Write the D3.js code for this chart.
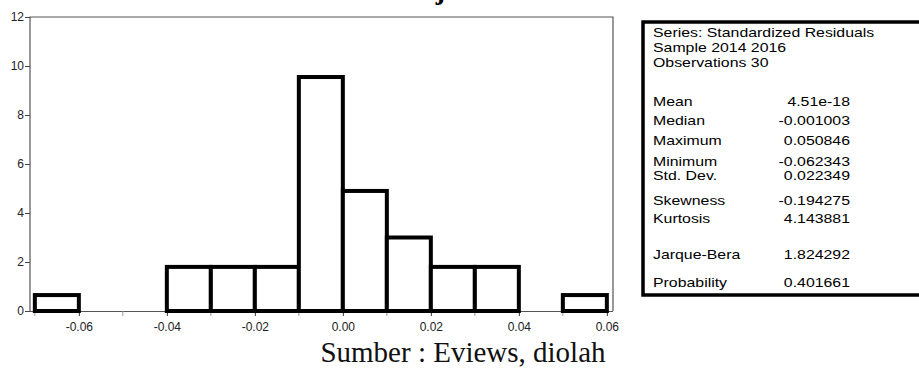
<!DOCTYPE html>
<html>
<head>
<meta charset="utf-8">
<script src="https://cdn.jsdelivr.net/npm/d3@7"></script>
<style>
  body { margin: 0; background: #fff; }
  svg { display: block; }
</style>
</head>
<body>
<div id="d3-container"></div>
<script>
// bin edges (left) and bar heights
const binStart = [-0.07, -0.06, -0.05, -0.04, -0.03, -0.02, -0.01, 0.00, 0.01, 0.02, 0.03, 0.04, 0.05];
const binHeight = [0.65, 0, 0, 1.8, 1.8, 1.8, 9.55, 4.9, 3.0, 1.8, 1.8, 0, 0.65];
const binWidth = 0.01;
const yTicks = [0, 2, 4, 6, 8, 10, 12];
const xTicks = [-0.06, -0.04, -0.02, 0.00, 0.02, 0.04, 0.06];
const xMinorTicks = [-0.07, -0.05, -0.03, -0.01, 0.01, 0.03, 0.05];

// stats table
const statHeader = ["Series: Standardized Residuals", "Sample 2014 2016", "Observations 30"];
const statNames = ["Mean", "Median", "Maximum", "Minimum", "Std. Dev.", "Skewness", "Kurtosis", "Jarque-Bera", "Probability"];
const statValues = ["4.51e-18", "-0.001003", "0.050846", "-0.062343", "0.022349", "-0.194275", "4.143881", "1.824292", "0.401661"];

function drawChart() {
    const width = 919;
    const height = 369;
    const plot = { left: 30, right: 613, top: 17, bottom: 311 };

    const svg = d3.select("#d3-container")
        .append("svg")
        .attr("width", width)
        .attr("height", height);

    const x = d3.scaleLinear()
        .domain([-0.0711, 0.0614])
        .range([plot.left, plot.right]);
    const y = d3.scaleLinear()
        .domain([0, 12])
        .range([plot.bottom, plot.top]);

    // clipped title line at the very top (only its lowest pixels show)
    svg.append("text")
        .attr("x", 470).attr("y", -1)
        .attr("text-anchor", "middle")
        .attr("font-family", "Liberation Serif, Times New Roman, serif")
        .attr("font-size", 28)
        .attr("font-weight", "bold")
        .text("Hasil Uji Normalitas");

    // frame (left, top, right)
    svg.append("path")
        .attr("d", `M${plot.left},${plot.bottom}V${plot.top}H${plot.right}V${plot.bottom}`)
        .attr("fill", "none")
        .attr("stroke", "#555")
        .attr("stroke-width", 1.2);

    const hyphen = f => d => f(d).replace("\u2212", "-");

    // y axis
    const yAxis = g => g
        .attr("transform", `translate(${plot.left},0)`)
        .call(d3.axisLeft(y).tickValues(yTicks).tickSize(5).tickPadding(1).tickFormat(d3.format("d")))
        .call(g => g.select(".domain").remove())
        .attr("font-family", "Liberation Sans, Arial, sans-serif")
        .attr("font-size", 12)
        .call(g => g.selectAll("line").attr("stroke", "#444"))
        .call(g => g.selectAll("text").attr("fill", "#222"));
    svg.append("g").call(yAxis);

    // x axis
    const xAxis = g => g
        .attr("transform", `translate(0,${plot.bottom})`)
        .call(d3.axisBottom(x).tickValues(xTicks).tickSize(5).tickPadding(6).tickFormat(hyphen(d3.format(".2f"))))
        .call(g => g.select(".domain").attr("stroke", "#555").attr("d", `M${plot.left},0.5H${plot.right}`))
        .attr("font-family", "Liberation Sans, Arial, sans-serif")
        .attr("font-size", 12)
        .call(g => g.selectAll("line").attr("stroke", "#333"))
        .call(g => g.selectAll("text").attr("fill", "#222"));
    svg.append("g").call(xAxis);

    svg.append("g")
        .selectAll("line")
        .data(xMinorTicks)
        .join("line")
        .attr("x1", d => x(d)).attr("x2", d => x(d))
        .attr("y1", plot.bottom).attr("y2", plot.bottom + 5)
        .attr("stroke", "#999");

    // histogram bars
    const bins = binStart.map((s, i) => ({ x0: s, x1: s + binWidth, h: binHeight[i] }))
        .filter(d => d.h > 0);
    svg.append("g")
        .attr("fill", "#fff")
        .attr("stroke", "#000")
        .attr("stroke-width", 4)
        .selectAll("rect")
        .data(bins)
        .join("rect")
        .attr("x", d => x(d.x0))
        .attr("y", d => y(d.h))
        .attr("width", d => x(d.x1) - x(d.x0))
        .attr("height", d => y(0) - y(d.h));

    // statistics box
    const box = svg.append("g");
    box.append("path")
        .attr("d", "M930,22H643V295H930")
        .attr("fill", "none")
        .attr("stroke", "#000")
        .attr("stroke-width", 3.5);

    const sx = 1.22;
    const txt = box.append("g")
        .attr("transform", `translate(653,0) scale(${sx},1)`)
        .attr("font-family", "Liberation Sans, Arial, sans-serif")
        .attr("font-size", 13)
        .attr("fill", "#000");

    const headerY = [37, 52, 67];
    txt.selectAll(".hdr")
        .data(statHeader)
        .join("text")
        .attr("class", "hdr")
        .attr("x", 0)
        .attr("y", (d, i) => headerY[i])
        .text(d => d);

    const rowY = [106, 125, 145, 166, 180, 205, 223, 259, 287];
    txt.selectAll(".nm")
        .data(statNames)
        .join("text")
        .attr("class", "nm")
        .attr("x", 0)
        .attr("y", (d, i) => rowY[i])
        .text(d => d);
    txt.selectAll(".val")
        .data(statValues)
        .join("text")
        .attr("class", "val")
        .attr("x", (850 - 653) / sx)
        .attr("y", (d, i) => rowY[i])
        .attr("text-anchor", "end")
        .text(d => d);

    // caption
    svg.append("text")
        .attr("x", 463).attr("y", 362)
        .attr("text-anchor", "middle")
        .attr("font-family", "Liberation Serif, Times New Roman, serif")
        .attr("font-size", 29)
        .attr("fill", "#111")
        .text("Sumber : Eviews, diolah");

    svg.node();
}

drawChart();
</script>
</body>
</html>
